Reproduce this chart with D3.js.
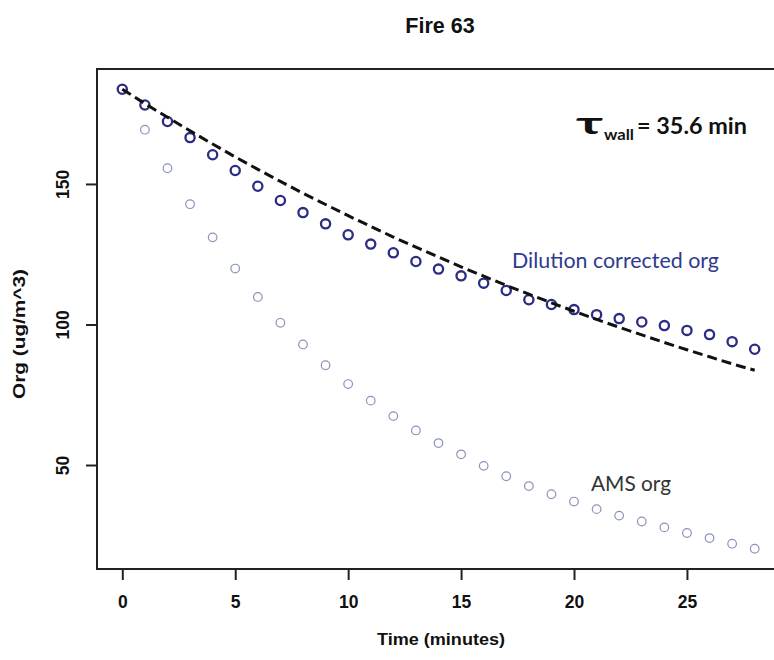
<!DOCTYPE html>
<html>
<head>
<meta charset="utf-8">
<script src="https://cdn.jsdelivr.net/npm/d3@7"></script>
<style>
  html, body { margin: 0; padding: 0; background: #fff; }
  svg { display: block; }
</style>
</head>
<body>
<svg id="chart" width="774" height="660"></svg>
<script>
// ---- data ----
const time = [0,1,2,3,4,5,6,7,8,9,10,11,12,13,14,15,16,17,18,19,20,21,22,23,24,25,26,27,28];
const dilutionCorrected = [183.7,178.1,172.2,166.5,160.4,154.8,149.2,144.1,139.8,135.8,131.9,128.6,125.5,122.4,119.7,117.3,114.7,112.1,108.8,107.1,105.3,103.5,102.1,100.9,99.6,97.9,96.4,93.9,91.2];
const amsOrg = [183.7,169.3,155.6,142.8,131.0,119.9,109.8,100.6,92.9,85.5,78.8,72.9,67.4,62.3,57.8,53.8,49.7,46.0,42.5,39.6,37.0,34.3,32.0,29.9,27.8,25.8,24.0,22.0,20.2];
const wallFit = [183.7,178.6,173.7,168.9,164.2,159.6,155.2,150.9,146.7,142.7,138.7,134.9,131.1,127.5,124.0,120.5,117.2,113.9,110.8,107.7,104.7,101.8,99.0,96.3,93.6,91.0,88.5,86.0,83.7];
const xTicks = [0,5,10,15,20,25];
const yTicks = [50,100,150];
const titleText = "Fire 63";
const xTitle = "Time (minutes)";
const yTitle = "Org (ug/m^3)";

// ---- layout ----
const svg = d3.select("#chart");
const L = 97, R = 780, T = 69, B = 569;
const x = d3.scaleLinear().domain([-1.12, 29.12]).range([L, R]);
const y = d3.scaleLinear().domain([13.0, 190.9]).range([B, T]);
const helv = "'Liberation Sans', Arial, Helvetica, sans-serif";
const cal = "Lato, 'Open Sans', sans-serif";

// Title
svg.append("text").attr("x", 440).attr("y", 33).attr("text-anchor", "middle")
  .attr("font-family", helv).attr("font-weight", "bold").attr("font-size", 21.5)
  .attr("fill", "#111").text(titleText);

// Points: AMS org
svg.append("g").selectAll("circle").data(time).join("circle")
  .attr("cx", (d) => x(d)).attr("cy", (d, i) => y(amsOrg[i])).attr("r", 4.3)
  .attr("fill", "none").attr("stroke", "#8a93ba").attr("stroke-width", 1.2);

// Points: dilution corrected
svg.append("g").selectAll("circle").data(time).join("circle")
  .attr("cx", (d) => x(d)).attr("cy", (d, i) => y(dilutionCorrected[i])).attr("r", 4.6)
  .attr("fill", "none").attr("stroke", "#2c2c82").attr("stroke-width", 2.3);

// Fit line (dashed)
const line = d3.line().x((d) => x(d)).y((d, i) => y(wallFit[i]));
svg.append("path").datum(time).attr("d", line)
  .attr("fill", "none").attr("stroke", "#111").attr("stroke-width", 3)
  .attr("stroke-dasharray", "10,5");

// Box
svg.append("rect").attr("x", L).attr("y", T).attr("width", R - L).attr("height", B - T)
  .attr("fill", "none").attr("stroke", "#222").attr("stroke-width", 2);

// X axis
const xAxis = d3.axisBottom(x).tickValues(xTicks).tickSize(11).tickPadding(16).tickFormat(d3.format("d"));
const gx = svg.append("g").attr("transform", `translate(0,${B})`).call(xAxis);
gx.select(".domain").attr("d", `M${x(0)},0H${x(25)}`).attr("stroke", "#222").attr("stroke-width", 2);
gx.selectAll(".tick line").attr("stroke", "#222").attr("stroke-width", 2);
gx.selectAll(".tick text").attr("font-family", helv).attr("font-weight", "bold")
  .attr("font-size", 17.5).attr("fill", "#111");

// Y axis
const yAxis = d3.axisLeft(y).tickValues(yTicks).tickSize(11).tickFormat(d3.format("d"));
const gy = svg.append("g").attr("transform", `translate(${L},0)`).call(yAxis);
gy.select(".domain").attr("d", `M0,${y(50)}V${y(150)}`).attr("stroke", "#222").attr("stroke-width", 2);
gy.selectAll(".tick line").attr("stroke", "#222").attr("stroke-width", 2);
gy.selectAll(".tick text")
  .attr("font-family", helv).attr("font-weight", "bold").attr("font-size", 17.5).attr("fill", "#111")
  .attr("x", null).attr("dy", null)
  .attr("text-anchor", "middle")
  .attr("transform", "translate(-34,0) rotate(-90) translate(0,6)");

// Axis titles
svg.append("text").attr("x", 441).attr("y", 645).attr("text-anchor", "middle")
  .attr("font-family", helv).attr("font-weight", "bold").attr("font-size", 17)
  .attr("fill", "#111").attr("textLength", 128).attr("lengthAdjust", "spacingAndGlyphs").text(xTitle);
svg.append("text").attr("transform", "translate(25,334) rotate(-90)").attr("text-anchor", "middle")
  .attr("font-family", helv).attr("font-weight", "bold").attr("font-size", 17)
  .attr("fill", "#111").attr("textLength", 130).attr("lengthAdjust", "spacingAndGlyphs").text(yTitle);

// Annotations
const tau = svg.append("text").attr("font-family", cal).attr("font-weight", "bold").attr("fill", "#111");
tau.append("tspan").attr("x", 576).attr("y", 134).attr("font-size", 30)
  .attr("textLength", 27).attr("lengthAdjust", "spacingAndGlyphs").text("τ");
tau.append("tspan").attr("x", 604).attr("y", 140).attr("font-size", 16)
  .attr("textLength", 30).attr("lengthAdjust", "spacingAndGlyphs").text("wall");
svg.append("text").attr("x", 637).attr("y", 134).attr("font-family", cal).attr("font-weight", "bold")
  .attr("font-size", 22).attr("fill", "#111")
  .attr("textLength", 110).attr("lengthAdjust", "spacingAndGlyphs").text("= 35.6 min");

svg.append("text").attr("x", 512).attr("y", 268).attr("font-family", cal)
  .attr("font-size", 20.5).attr("fill", "#2e3a8e")
  .attr("textLength", 207).attr("lengthAdjust", "spacingAndGlyphs").text("Dilution corrected org");
svg.append("text").attr("x", 591).attr("y", 491).attr("font-family", cal)
  .attr("font-size", 20.5).attr("fill", "#333")
  .attr("textLength", 80).attr("lengthAdjust", "spacingAndGlyphs").text("AMS org");
</script>
</body>
</html>
